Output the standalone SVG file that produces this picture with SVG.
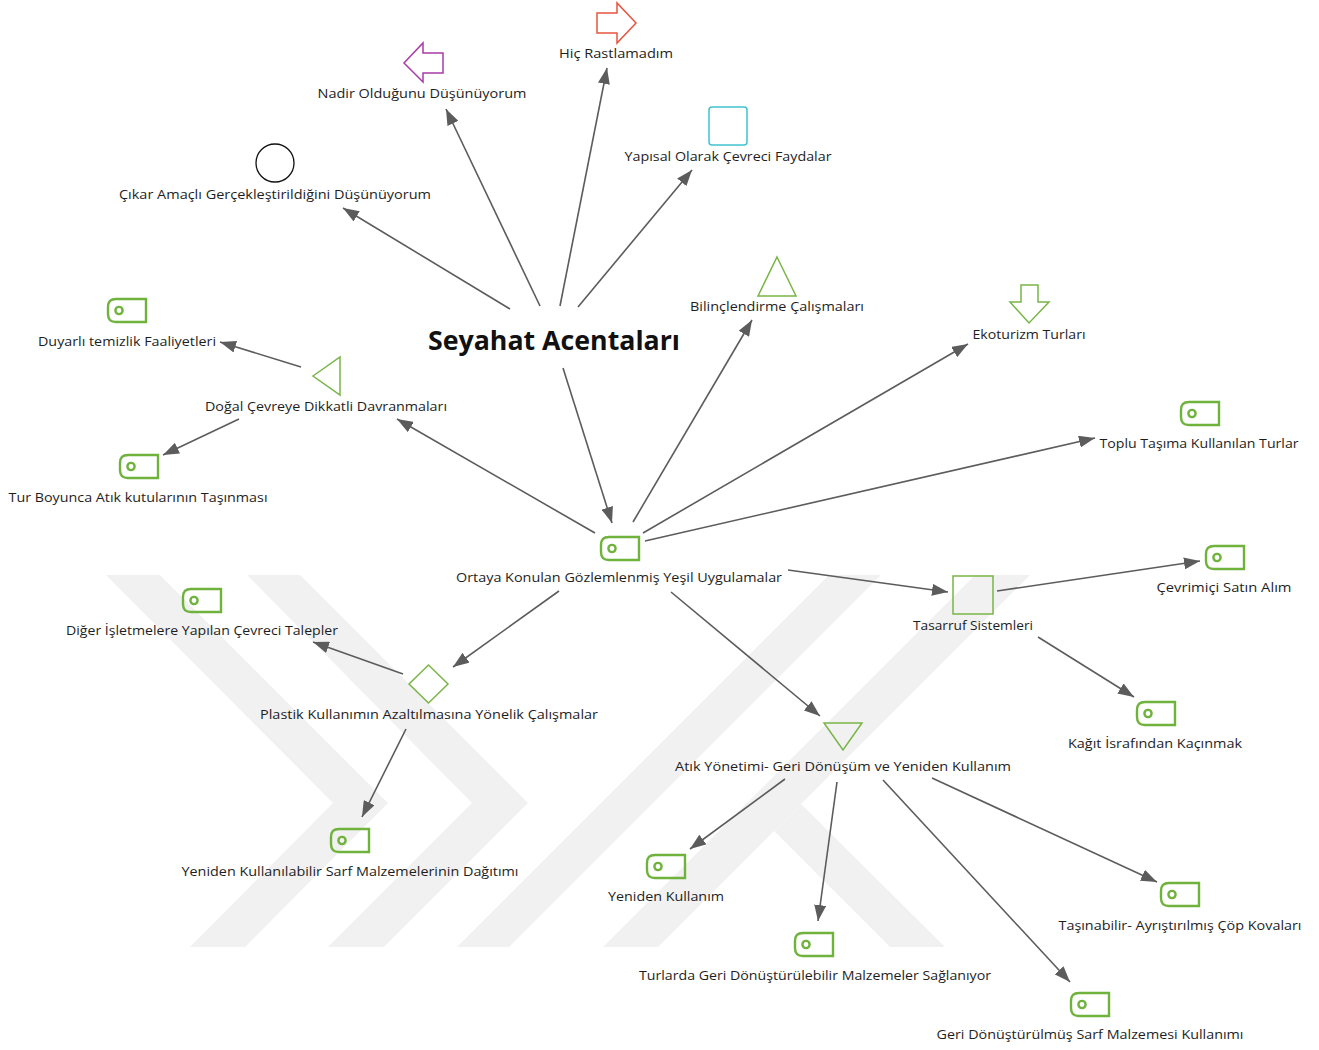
<svg xmlns="http://www.w3.org/2000/svg" xmlns:xlink="http://www.w3.org/1999/xlink" width="1319" height="1050" viewBox="0 0 1319 1050">
  <style>
    .lbl { font-family: "Open Sans", "Noto Sans", sans-serif; font-size: 13.5px; fill: #1e1e1e; text-anchor: middle; }
    .title { font-family: "Open Sans", "Noto Sans", sans-serif; font-size: 27px; font-weight: bold; fill: #111; text-anchor: middle; }
    .edge { stroke: #5c5c5c; stroke-width: 1.6; fill: none; marker-end: url(#ah); }
    .tag { fill: none; stroke: #6fb23c; stroke-width: 2.4; }
    .shape { fill: none; stroke: #78b546; stroke-width: 1.5; }
    .mark { fill: #f1f1f1; }
  </style>
  <defs>
    <marker id="ah" markerUnits="userSpaceOnUse" markerWidth="17" markerHeight="12" refX="16" refY="6" orient="auto">
      <path d="M0,0 L16,6 L0,12 Z" fill="#5c5c5c"/>
    </marker>
    <g id="tagIcon" class="tag">
      <path d="M8,0 H38 V23 H8 Q0,23 0,15 V8 Q0,0 8,0 Z"/>
      <circle cx="11" cy="11.5" r="3.6"/>
    </g>
  </defs>
  <rect width="1319" height="1050" fill="#ffffff"/>

  <!-- background emblem: light diagonal bands -->
  <g id="emblem">
    <polygon class="mark" points="106,575 160,575 388,803 245,947 190,947 333,803"/>
    <polygon class="mark" points="247,575 300,575 528,803 384,947 328,947 472,803"/>
    <polygon class="mark" points="829,575 881,575 509,947 457,947"/>
    <polygon class="mark" points="975,575 1030,575 658,947 603,947"/>
    <polygon class="mark" points="774,831 801,804 945,947 890,947"/>
  </g>

  <!-- connectors -->
  <g id="connectors">
    <line class="edge" x1="510" y1="309" x2="343" y2="208"/>
    <line class="edge" x1="540" y1="306" x2="446" y2="109"/>
    <line class="edge" x1="560" y1="306" x2="607" y2="68"/>
    <line class="edge" x1="578" y1="307" x2="692" y2="170"/>
    <line class="edge" x1="563" y1="368" x2="612" y2="523"/>
    <line class="edge" x1="595" y1="533" x2="397" y2="419"/>
    <line class="edge" x1="633" y1="522" x2="752" y2="320"/>
    <line class="edge" x1="643" y1="533" x2="968" y2="344"/>
    <line class="edge" x1="645" y1="541" x2="1095" y2="438"/>
    <line class="edge" x1="788" y1="570" x2="948" y2="592"/>
    <line class="edge" x1="559" y1="591" x2="453" y2="667"/>
    <line class="edge" x1="671" y1="592" x2="820" y2="716"/>
    <line class="edge" x1="301" y1="367" x2="220" y2="342"/>
    <line class="edge" x1="239" y1="419" x2="163" y2="455"/>
    <line class="edge" x1="997" y1="591" x2="1200" y2="561"/>
    <line class="edge" x1="1038" y1="637" x2="1134" y2="697"/>
    <line class="edge" x1="403" y1="674" x2="313" y2="642"/>
    <line class="edge" x1="406" y1="729" x2="362" y2="817"/>
    <line class="edge" x1="785" y1="779" x2="690" y2="849"/>
    <line class="edge" x1="837" y1="782" x2="818" y2="921"/>
    <line class="edge" x1="883" y1="780" x2="1070" y2="982"/>
    <line class="edge" x1="932" y1="778" x2="1157" y2="882"/>
  </g>

  <!-- root -->
  <g id="n-seyahat">
    <text class="title" x="554" y="350" textLength="252" lengthAdjust="spacingAndGlyphs">Seyahat Acentaları</text>
  </g>

  <!-- opinion nodes -->
  <g id="n-hic">
    <path d="M597,13 H617 V3 L636,23 L617,43 V33 H597 Z" fill="none" stroke="#e8553f" stroke-width="1.5"/>
    <text class="lbl" x="616" y="58" textLength="114" lengthAdjust="spacingAndGlyphs">Hiç Rastlamadım</text>
  </g>
  <g id="n-nadir">
    <path d="M443,53 H423 V43 L404,63 L423,82 V73 H443 Z" fill="none" stroke="#a83ca8" stroke-width="1.5"/>
    <text class="lbl" x="422" y="98" textLength="209" lengthAdjust="spacingAndGlyphs">Nadir Olduğunu Düşünüyorum</text>
  </g>
  <g id="n-yapisal">
    <rect x="709" y="107" width="38" height="38" rx="3" fill="none" stroke="#40c4cf" stroke-width="1.5"/>
    <text class="lbl" x="728" y="161" textLength="207" lengthAdjust="spacingAndGlyphs">Yapısal Olarak Çevreci Faydalar</text>
  </g>
  <g id="n-cikar">
    <circle cx="275" cy="163" r="19" fill="none" stroke="#111" stroke-width="1.3"/>
    <text class="lbl" x="275" y="199" textLength="312" lengthAdjust="spacingAndGlyphs">Çıkar Amaçlı Gerçekleştirildiğini Düşünüyorum</text>
  </g>

  <!-- practice nodes -->
  <g id="n-ortaya">
    <use xlink:href="#tagIcon" x="601" y="537"/>
    <text class="lbl" x="619" y="582" textLength="326" lengthAdjust="spacingAndGlyphs">Ortaya Konulan Gözlemlenmiş Yeşil Uygulamalar</text>
  </g>
  <g id="n-bilinc">
    <path class="shape" d="M777,257 L796,296 H758 Z"/>
    <text class="lbl" x="777" y="311" textLength="174" lengthAdjust="spacingAndGlyphs">Bilinçlendirme Çalışmaları</text>
  </g>
  <g id="n-ekoturizm">
    <path class="shape" d="M1021,285 H1038 V302 H1049 L1029,323 L1010,302 H1021 Z"/>
    <text class="lbl" x="1029" y="339" textLength="113" lengthAdjust="spacingAndGlyphs">Ekoturizm Turları</text>
  </g>
  <g id="n-toplu">
    <use xlink:href="#tagIcon" x="1181" y="402"/>
    <text class="lbl" x="1199" y="448" textLength="199" lengthAdjust="spacingAndGlyphs">Toplu Taşıma Kullanılan Turlar</text>
  </g>
  <g id="n-dogal">
    <path class="shape" d="M313,376 L340,357 V395 Z"/>
    <text class="lbl" x="326" y="411" textLength="242" lengthAdjust="spacingAndGlyphs">Doğal Çevreye Dikkatli Davranmaları</text>
  </g>
  <g id="n-duyarli">
    <use xlink:href="#tagIcon" x="108" y="299"/>
    <text class="lbl" x="127" y="346" textLength="178" lengthAdjust="spacingAndGlyphs">Duyarlı temizlik Faaliyetleri</text>
  </g>
  <g id="n-turboyunca">
    <use xlink:href="#tagIcon" x="120" y="455"/>
    <text class="lbl" x="138" y="502" textLength="259" lengthAdjust="spacingAndGlyphs">Tur Boyunca Atık kutularının Taşınması</text>
  </g>
  <g id="n-tasarruf">
    <rect class="shape" x="953" y="576" width="40" height="38"/>
    <text class="lbl" x="973" y="630" textLength="120" lengthAdjust="spacingAndGlyphs">Tasarruf Sistemleri</text>
  </g>
  <g id="n-cevrimici">
    <use xlink:href="#tagIcon" x="1206" y="546"/>
    <text class="lbl" x="1224" y="592" textLength="135" lengthAdjust="spacingAndGlyphs">Çevrimiçi Satın Alım</text>
  </g>
  <g id="n-kagit">
    <use xlink:href="#tagIcon" x="1137" y="702"/>
    <text class="lbl" x="1155" y="748" textLength="174" lengthAdjust="spacingAndGlyphs">Kağıt İsrafından Kaçınmak</text>
  </g>
  <g id="n-plastik">
    <path class="shape" d="M428.5,665 L448,684 L428.5,703 L409,684 Z"/>
    <text class="lbl" x="429" y="719" textLength="338" lengthAdjust="spacingAndGlyphs">Plastik Kullanımın Azaltılmasına Yönelik Çalışmalar</text>
  </g>
  <g id="n-diger">
    <use xlink:href="#tagIcon" x="183" y="589"/>
    <text class="lbl" x="202" y="635" textLength="272" lengthAdjust="spacingAndGlyphs">Diğer İşletmelere Yapılan Çevreci Talepler</text>
  </g>
  <g id="n-sarf">
    <use xlink:href="#tagIcon" x="331" y="829"/>
    <text class="lbl" x="350" y="876" textLength="337" lengthAdjust="spacingAndGlyphs">Yeniden Kullanılabilir Sarf Malzemelerinin Dağıtımı</text>
  </g>
  <g id="n-atik">
    <path class="shape" d="M824,723 H862 L843,750 Z"/>
    <text class="lbl" x="843" y="771" textLength="336" lengthAdjust="spacingAndGlyphs">Atık Yönetimi- Geri Dönüşüm ve Yeniden Kullanım</text>
  </g>
  <g id="n-yeniden">
    <use xlink:href="#tagIcon" x="647" y="855"/>
    <text class="lbl" x="666" y="901" textLength="116" lengthAdjust="spacingAndGlyphs">Yeniden Kullanım</text>
  </g>
  <g id="n-turlarda">
    <use xlink:href="#tagIcon" x="795" y="933"/>
    <text class="lbl" x="815" y="980" textLength="352" lengthAdjust="spacingAndGlyphs">Turlarda Geri Dönüştürülebilir Malzemeler Sağlanıyor</text>
  </g>
  <g id="n-tasinabilir">
    <use xlink:href="#tagIcon" x="1161" y="883"/>
    <text class="lbl" x="1180" y="930" textLength="243" lengthAdjust="spacingAndGlyphs">Taşınabilir- Ayrıştırılmış Çöp Kovaları</text>
  </g>
  <g id="n-geri">
    <use xlink:href="#tagIcon" x="1071" y="993"/>
    <text class="lbl" x="1090" y="1039" textLength="307" lengthAdjust="spacingAndGlyphs">Geri Dönüştürülmüş Sarf Malzemesi Kullanımı</text>
  </g>
</svg>
